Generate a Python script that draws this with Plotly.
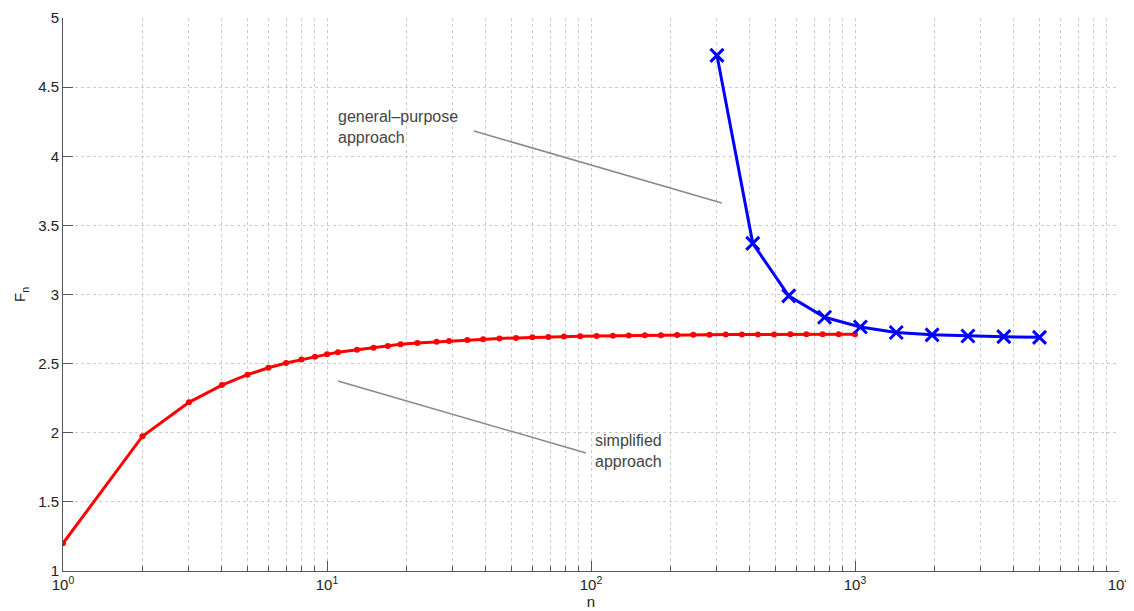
import plotly.graph_objects as go

# Simplified approach (red)
n_simple = [1, 2, 3, 4, 5, 6, 7, 8, 9, 10, 11, 13, 15, 17, 19, 22, 26, 29, 34, 39, 45, 52,
            60, 69, 79, 91, 105, 121, 139, 160, 184, 212, 244, 281, 324, 373, 429, 494,
            569, 655, 754, 868, 1000]
F_simple = [1.20, 1.975, 2.22, 2.345, 2.42, 2.47, 2.505, 2.53, 2.55, 2.567, 2.582, 2.60,
            2.615, 2.628, 2.64, 2.65, 2.658, 2.664, 2.671, 2.677, 2.682, 2.686, 2.69,
            2.693, 2.696, 2.698, 2.700, 2.702, 2.704, 2.705, 2.706, 2.707, 2.708, 2.709,
            2.710, 2.710, 2.711, 2.711, 2.712, 2.712, 2.712, 2.713, 2.713]

# General-purpose approach (blue)
n_general = [300, 410, 561, 767, 1048, 1433, 1959, 2678, 3661, 5000]
F_general = [4.73, 3.37, 2.99, 2.835, 2.765, 2.725, 2.708, 2.700, 2.695, 2.690]

# Axis ticks
x_major = [1, 10, 100, 1000, 10000]
x_major_labels = ["10<sup>0</sup>", "10<sup>1</sup>", "10<sup>2</sup>", "10<sup>3</sup>", "10<sup>4</sup>"]
y_ticks = [1, 1.5, 2, 2.5, 3, 3.5, 4, 4.5, 5]
y_labels = ["1", "1.5", "2", "2.5", "3", "3.5", "4", "4.5", "5"]

x_minor = [x_major[d] * m for d in range(4) for m in range(2, 10)]

AX = "#555555"
GRID = "#cccccc"
TXT = "#222222"

fig = go.Figure()
fig.add_trace(go.Scatter(x=n_simple, y=F_simple, mode="lines+markers",
                         line=dict(color="#ff0000", width=3),
                         marker=dict(color="#ff0000", size=6, symbol="circle"),
                         showlegend=False))
fig.add_trace(go.Scatter(x=n_general, y=F_general, mode="lines+markers",
                         line=dict(color="#0000ff", width=3),
                         marker=dict(color="#0000ff", size=13, symbol="x-thin-open",
                                     line=dict(color="#0000ff", width=3)),
                         showlegend=False))

# annotation lines (in data coordinates, log x)
fig.add_shape(type="line", xref="x", yref="y", x0=36.0, y0=4.183, x1=313, y1=3.662,
              line=dict(color="#888888", width=1.5))
fig.add_shape(type="line", xref="x", yref="y", x0=11.0, y0=2.374, x1=95.7, y1=1.854,
              line=dict(color="#888888", width=1.5))
fig.add_annotation(x=1.034 / 4, y=4.21, xref="x domain", yref="y", xanchor="left", yanchor="middle",
                   text="general–purpose<br>approach", showarrow=False, align="left",
                   font=dict(size=16, color="#444444", family="Liberation Sans, Arial"))
fig.add_annotation(x=2.008 / 4, y=1.868, xref="x domain", yref="y", xanchor="left", yanchor="middle",
                   text="simplified<br>approach", showarrow=False, align="left",
                   font=dict(size=16, color="#444444", family="Liberation Sans, Arial"))

fig.update_xaxes(type="log", range=[0, 4], tickmode="array", tickvals=x_major, ticktext=x_major_labels,
                 ticks="inside", ticklen=10, tickcolor=AX, showline=True, linecolor=AX,
                 linewidth=1, showgrid=True, gridcolor=GRID, griddash="dot", gridwidth=1,
                 minor=dict(tickmode="array", tickvals=x_minor, ticks="inside", ticklen=5,
                            tickcolor=AX, showgrid=True, gridcolor=GRID, griddash="dot", gridwidth=1),
                 zeroline=False, automargin=False, tickfont=dict(size=15, color=TXT),
                 title=dict(text="n", standoff=0, font=dict(size=15, color=TXT)))
fig.update_yaxes(range=[1, 5], tickmode="array", tickvals=y_ticks, ticktext=y_labels,
                 ticks="inside", ticklen=10, tickcolor=AX, showline=True, linecolor=AX,
                 linewidth=1, showgrid=True, gridcolor=GRID, griddash="dot", gridwidth=1,
                 zeroline=False, automargin=False, tickfont=dict(size=15, color=TXT),
                 title=dict(text="F<sub>n</sub>", standoff=8, font=dict(size=15, color=TXT)))

# page body has an 8px default margin; compensate so the plot area sits where the reference's does
fig.update_layout(width=1134, height=611, plot_bgcolor="white", paper_bgcolor="white",
                  margin=dict(l=55, r=23, t=10, b=48),
                  font=dict(family="Liberation Sans, Arial, sans-serif"))

fig.write_html("out.html")
